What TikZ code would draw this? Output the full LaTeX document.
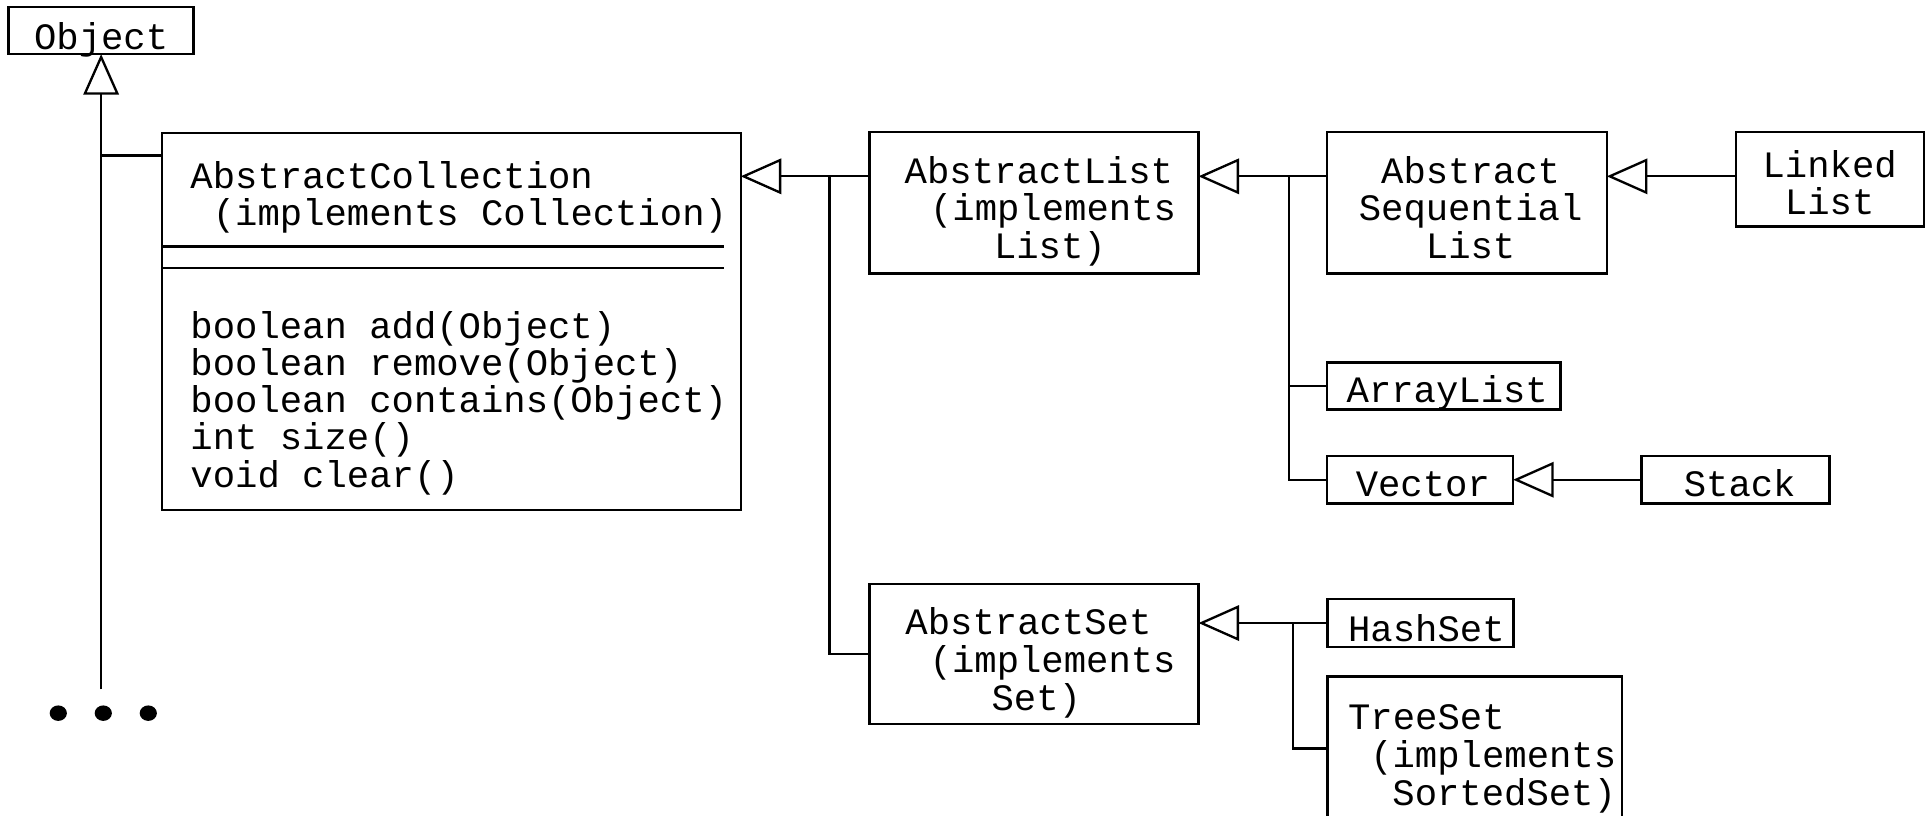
\documentclass[tikz,border=0pt]{standalone}
\usepackage{fontspec}
\usetikzlibrary{arrows.meta,fit}
\newfontfamily\codefont{Liberation Mono}

\begin{document}
\begin{tikzpicture}[x=0.5pt,y=-0.5pt,
  ln/.style={line width=0.95pt},
  cls/.style={draw,line width=0.95pt,inner sep=0pt,outer sep=0pt},
  gen/.style={line width=0.95pt,-{Triangle[open,length=16.5pt,width=14.4pt]}},
  txt/.style={font=\codefont\fontsize{15.15pt}{15.25pt}\selectfont,inner sep=0pt,anchor=base west,yshift=-1.25pt},
  ctxt/.style={txt,anchor=base}]
\useasboundingbox (0,0) rectangle (1568,663);

% class boxes
\node[cls,fit={(7,5.5)(157.5,44)}] (obj) {};
\node[cls,fit={(132,108)(602.4,414.8)}] (ac) {};
\node[cls,fit={(707,107.6)(974.7,222.3)}] (al) {};
\node[cls,fit={(1079.4,107.6)(1306.8,222.3)}] (asl) {};
\node[cls,fit={(1411.6,107.6)(1564.7,184.3)}] (ll) {};
\node[cls,fit={(1079.4,294.7)(1269,332.9)}] (arr) {};
\node[cls,fit={(1079.4,370.9)(1230.6,409.4)}] (vec) {};
\node[cls,fit={(1335,370.9)(1488,409.4)}] (stk) {};
\node[cls,fit={(707,475)(974.7,588.8)}] (as) {};
\node[cls,fit={(1079.6,487.4)(1230.8,526)}] (hs) {};
\node[cls,fit={(1079.6,550.3)(1319,720)}] (ts) {};

% compartments of AbstractCollection
\draw[ln] (ac.west |- 0,200.6) -- (589,200.6);
\draw[ln] (ac.west |- 0,218) -- (589,218);

% class names and members
\node[ctxt] (t-obj) at (82.25,38) {Object};
\node[txt] (t-ac1) at (154.5,150.5) {AbstractCollection};
\node[txt] (t-ac2) at (172.7,181) {(implements Collection)};
\node[txt] (m1) at (154.5,272.4) {boolean add(Object)};
\node[txt] (m2) at (154.5,302.7) {boolean remove(Object)};
\node[txt] (m3) at (154.5,333) {boolean contains(Object)};
\node[txt] (m4) at (154.5,363.3) {int size()};
\node[txt] (m5) at (154.5,393.6) {void clear()};

\node[txt] (t-al1) at (735.4,146.4) {AbstractList};
\node[txt] (t-al2) at (756,176.7) {(implements};
\node[txt] (t-al3) at (808,207.4) {List)};

\node[ctxt] (t-asl1) at (1196,146.4) {Abstract};
\node[ctxt] (t-asl2) at (1196,176.7) {Sequential};
\node[ctxt] (t-asl3) at (1196,207.4) {List};

\node[ctxt] (t-ll1) at (1488,141.5) {Linked};
\node[ctxt] (t-ll2) at (1488,172.2) {List};

\node[txt] (t-arr) at (1094.8,324.5) {ArrayList};
\node[txt] (t-vec) at (1102.2,401.2) {Vector};
\node[txt] (t-stk) at (1369,401.2) {Stack};

\node[txt] (t-as1) at (736,513.7) {AbstractSet};
\node[txt] (t-as2) at (755.7,544.5) {(implements};
\node[txt] (t-as3) at (806,575) {Set)};

\node[txt] (t-hs) at (1096,519) {HashSet};
\node[txt] (t-ts1) at (1096,591) {TreeSet};
\node[txt] (t-ts2) at (1114,622) {(implements};
\node[txt] (t-ts3) at (1132,652.8) {SortedSet)};

% inheritance: AbstractCollection -> Object
\coordinate (oe) at (82.25,560.6);
\coordinate (acj) at (82.25,126.6);
\draw[gen] (oe) -- (obj.south);
\draw[ln] (acj) -- (acj -| ac.west);
\fill (47.4,580) ellipse [x radius=3.5pt,y radius=3.15pt];
\fill (84,580) ellipse [x radius=3.5pt,y radius=3.15pt];
\fill (120.6,580) ellipse [x radius=3.5pt,y radius=3.15pt];

% inheritance: lists and sets -> AbstractCollection
\coordinate (r1) at (0,143.4);
\coordinate (j1) at (674.5,143.4);
\draw[gen] (al.west |- r1) -- (ac.east |- r1);
\draw[ln] (j1) |- (as.west);

% inheritance: concrete lists -> AbstractList
\coordinate (j2) at (1048.4,143.4);
\draw[gen] (asl.west |- r1) -- (al.east |- r1);
\draw[ln] (j2) |- (vec.west);
\draw[ln] (j2 |- arr.west) -- (arr.west);

% LinkedList -> AbstractSequentialList, Stack -> Vector
\draw[gen] (ll.west |- r1) -- (asl.east |- r1);
\draw[gen] (stk.west) -- (vec.east);

% inheritance: sets -> AbstractSet
\coordinate (j3) at (1051.5,506.7);
\coordinate (tsj) at (1079.6,608.6);
\draw[gen] (hs.west) -- (as.east |- hs.west);
\draw[ln] (j3) |- (tsj);
\end{tikzpicture}
\end{document}
